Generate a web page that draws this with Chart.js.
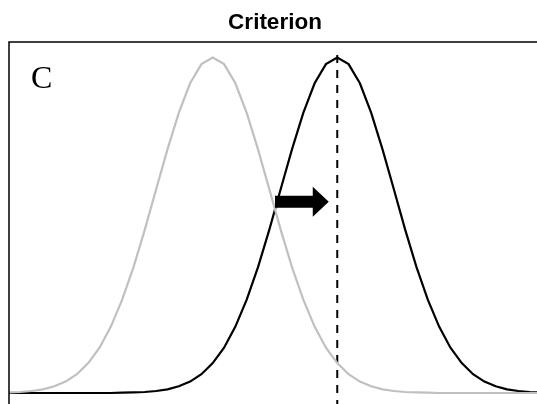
<!DOCTYPE html>
<html>
<head>
<meta charset="utf-8">
<script src="https://cdn.jsdelivr.net/npm/chart.js@4"></script>
<style>
  html, body { margin: 0; padding: 0; background: #fff; }
  #wrap { width: 537px; height: 404px; overflow: hidden; position: relative; }
  #grafica { position: absolute; left: 0; top: 0; }
</style>
</head>
<body>
<div id="wrap"><canvas id="grafica" width="541" height="440"></canvas></div>
<script>
// eje x (en unidades de sigma)
const ejeX = [-3.6, -3.4, -3.2, -3.0, -2.8, -2.6, -2.4, -2.2, -2.0, -1.8,
  -1.6, -1.4, -1.2, -1.0, -0.8, -0.6, -0.4, -0.2, 0.0, 0.2,
  0.4, 0.6, 0.8, 1.0, 1.2, 1.4, 1.6, 1.8, 2.0, 2.2,
  2.4, 2.6, 2.8, 3.0, 3.2, 3.4, 3.6, 3.8, 4.0, 4.2,
  4.4, 4.6, 4.8, 5.0, 5.2, 5.4, 5.6, 5.8]

// curva gris (antes)
const curvaGris = [0.002, 0.003, 0.006, 0.011, 0.020, 0.034, 0.056, 0.089, 0.135, 0.198,
  0.278, 0.375, 0.487, 0.607, 0.726, 0.835, 0.923, 0.980, 1.000, 0.980,
  0.923, 0.835, 0.726, 0.607, 0.487, 0.375, 0.278, 0.198, 0.135, 0.089,
  0.056, 0.034, 0.020, 0.011, 0.006, 0.003, 0.002, 0.001, 0, 0,
  0, 0, 0, 0, 0, 0, 0, 0]

// curva negra (despues)
const curvaNegra = [0, 0, 0, 0, 0, 0, 0, 0, 0, 0,
  0.001, 0.002, 0.003, 0.006, 0.011, 0.020, 0.034, 0.056, 0.089, 0.135,
  0.198, 0.278, 0.375, 0.487, 0.607, 0.726, 0.835, 0.923, 0.980, 1.000,
  0.980, 0.923, 0.835, 0.726, 0.607, 0.487, 0.375, 0.278, 0.198, 0.135,
  0.089, 0.056, 0.034, 0.020, 0.011, 0.006, 0.003, 0.002]

const criterioX = [2.2, 2.2]
const criterioY = [1.007, -0.14]

const flechaX = [1.1, 2.05]
const flechaY = [0.57]

const titulo = 'Criterion'
const etiqueta = 'C'

function puntos(xs, ys) {
    return xs.map((x, i) => ({ x: x, y: ys[i] }))
}

const marcoPlugin = {
    id: 'marco',
    afterDatasetsDraw(chart) {
        const ctx = chart.ctx
        const area = chart.chartArea
        const sx = chart.scales.x
        const sy = chart.scales.y
        ctx.save()
        // marco
        ctx.strokeStyle = '#000'
        ctx.lineWidth = 1.5
        ctx.beginPath()
        ctx.moveTo(area.left, area.bottom)
        ctx.lineTo(area.left, area.top)
        ctx.lineTo(area.right, area.top)
        ctx.stroke()

        // flecha
        const x0 = sx.getPixelForValue(flechaX[0])
        const x1 = sx.getPixelForValue(flechaX[1])
        const yc = sy.getPixelForValue(flechaY[0])
        const cabeza = 16
        ctx.fillStyle = '#000'
        ctx.beginPath()
        ctx.moveTo(x0, yc - 6)
        ctx.lineTo(x1 - cabeza, yc - 6)
        ctx.lineTo(x1 - cabeza, yc - 15)
        ctx.lineTo(x1, yc)
        ctx.lineTo(x1 - cabeza, yc + 15)
        ctx.lineTo(x1 - cabeza, yc + 6)
        ctx.lineTo(x0, yc + 6)
        ctx.closePath()
        ctx.fill()

        // etiqueta C
        ctx.font = '32px "Liberation Serif", "DejaVu Serif", serif'
        ctx.textBaseline = 'alphabetic'
        ctx.textAlign = 'left'
        ctx.fillText(etiqueta, area.left + 22, 88)
        ctx.restore()
    }
}

const config = {
    type: 'line',
    data: {
        datasets: [
            {
                label: 'antes',
                data: puntos(ejeX, curvaGris),
                borderColor: '#c0c0c0',
                borderWidth: 2.2,
                pointRadius: 0,
                tension: 0
            },
            {
                label: 'despues',
                data: puntos(ejeX, curvaNegra),
                borderColor: '#000',
                borderWidth: 2.2,
                pointRadius: 0,
                tension: 0
            },
            {
                label: 'criterio',
                data: puntos(criterioX, criterioY),
                borderColor: '#000',
                borderWidth: 2,
                borderDash: [8, 7],
                pointRadius: 0,
                tension: 0
            }
        ]
    },
    options: {
        responsive: false,
        animation: false,
        layout: { padding: { left: 9, right: 0, top: 0, bottom: 0 } },
        scales: {
            x: { type: 'linear', min: -3.6, max: 5.8, display: false },
            y: { type: 'linear', min: -0.14, max: 1.046, display: false }
        },
        plugins: {
            legend: { display: false },
            tooltip: { enabled: false },
            title: {
                display: true,
                text: titulo,
                color: '#000',
                font: { family: '"Liberation Sans", Arial, sans-serif', size: 22.5, weight: 'bold' },
                padding: { top: 9, bottom: 6 }
            }
        }
    },
    plugins: [marcoPlugin]
}

new Chart(document.getElementById('grafica'), config)
</script>
</body>
</html>
